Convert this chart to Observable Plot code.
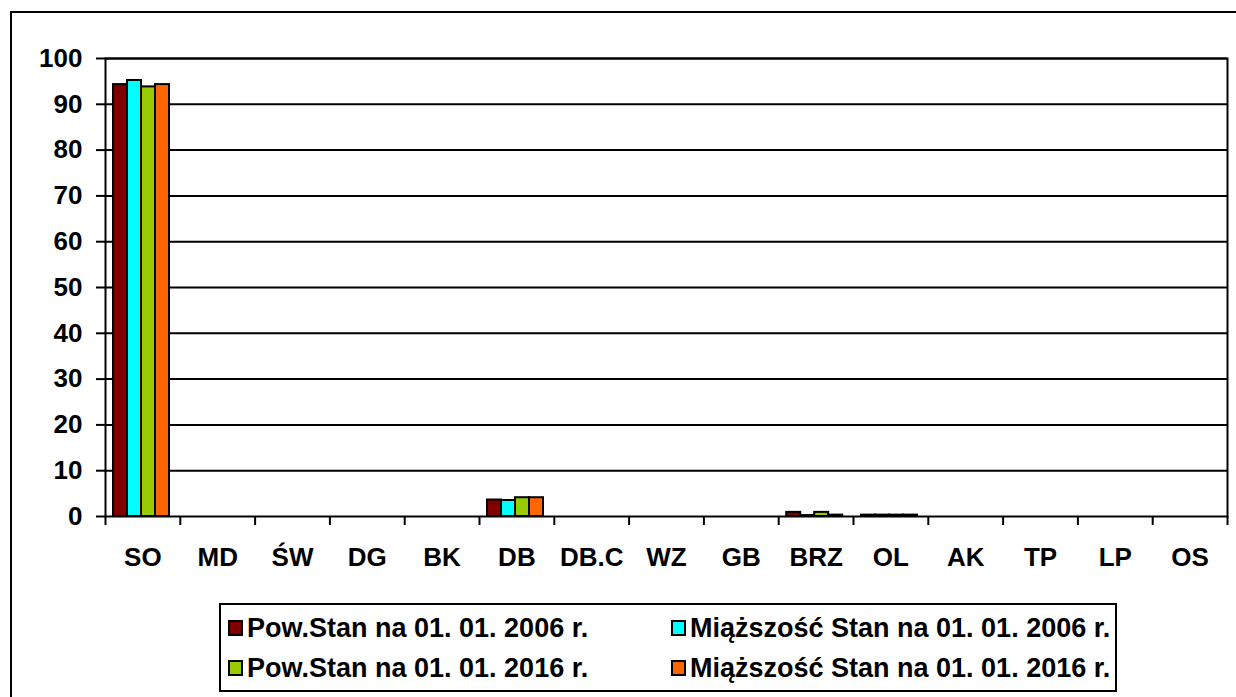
<!DOCTYPE html>
<html><head><meta charset="utf-8">
<script src="https://cdn.jsdelivr.net/npm/d3@7"></script>
<script src="https://cdn.jsdelivr.net/npm/@observablehq/plot@0.6"></script>
<style>
html,body{margin:0;padding:0;background:#fff;overflow:hidden;width:1236px;height:697px;}
#wrap{position:relative;width:1236px;height:697px;font-family:"Liberation Sans",Arial,sans-serif;font-weight:bold;}
#outer{position:absolute;left:10px;top:11px;width:1300px;height:800px;border:2px solid #000;box-sizing:border-box;}
#chart{position:absolute;left:0;top:0;}
#legend{position:absolute;left:219px;top:603px;width:898px;height:89px;border:2px solid #000;box-sizing:border-box;}
.item{position:absolute;display:flex;align-items:center;font-size:27px;height:30px;line-height:30px;}
.sw{width:11px;height:12px;border:2px solid #000;margin-right:4px;box-sizing:content-box;}
</style>
</head><body>
<div id="wrap"><div id="outer"></div><div id="chart"></div><div id="legend"></div></div>
<script>
const categories = ["SO","MD","ŚW","DG","BK","DB","DB.C","WZ","GB","BRZ","OL","AK","TP","LP","OS"];
const seriesNames = ["Pow.Stan na 01. 01. 2006 r.","Miąższość Stan na 01. 01. 2006 r.","Pow.Stan na 01. 01. 2016 r.","Miąższość Stan na 01. 01. 2016 r."];
const pow2006  = [94.3,0,0,0,0,3.6,0,0,0,0.9,0.3,0,0,0,0];
const miaz2006 = [95.2,0,0,0,0,3.5,0,0,0,0.2,0.3,0,0,0,0];
const pow2016  = [93.8,0,0,0,0,4.1,0,0,0,0.9,0.3,0,0,0,0];
const miaz2016 = [94.3,0,0,0,0,4.1,0,0,0,0.3,0.3,0,0,0,0];
const colors = ["#800000","#00FFFF","#99CC00","#FF6600"];
const yTicks = [0,10,20,30,40,50,60,70,80,90,100];

const seriesValues = [pow2006, miaz2006, pow2016, miaz2016];
const W = 1236, H = 600, mL = 105, mR = 9, mT = 58, mB = 84;
const bw = (W - mL - mR) / categories.length;
const barW = 14;
const inset = (bw - barW) / 2;

const marks = [
  Plot.ruleY(yTicks.filter(d => d > 0), {stroke: "#000", strokeWidth: 2}),
];
seriesValues.forEach((vals, i) => {
  const data = categories.map((c, j) => ({cat: c, v: vals[j]}));
  marks.push(Plot.barY(data, {
    x: "cat", y: "v", fill: colors[i], stroke: "#000", strokeWidth: 2,
    insetLeft: inset, insetRight: inset, dx: (i - 1.5) * barW - 1.4
  }));
});
marks.push(
  Plot.frame({stroke: "#000", strokeWidth: 2}),
  Plot.axisY({ticks: yTicks, tickSize: 9, tickPadding: 14, strokeWidth: 2, label: null}),
  Plot.axisX({tickSize: 9, text: null, strokeWidth: 2, dx: -bw / 2, label: null}),
  Plot.axisX({ticks: [categories[categories.length - 1]], tickSize: 9, text: null, strokeWidth: 2, dx: bw / 2, label: null}),
  Plot.axisX({tickSize: 0, tickPadding: 31, label: null})
);

const chart = Plot.plot({
  width: W, height: H,
  marginLeft: mL, marginRight: mR, marginTop: mT, marginBottom: mB,
  x: {domain: categories, padding: 0, round: false},
  y: {domain: [0, 100]},
  style: {fontSize: "26px", fontWeight: "bold", fontFamily: "'Liberation Sans', Arial, sans-serif", color: "#000", background: "transparent", overflow: "visible"},
  marks
});
document.getElementById("chart").appendChild(chart);

const legend = document.getElementById("legend");
const pos = [[7, 8], [450, 8], [7, 48], [450, 48]];
[0, 1, 2, 3].forEach((k, idx) => {
  const it = document.createElement("div");
  it.className = "item";
  it.style.left = pos[idx][0] + "px";
  it.style.top = pos[idx][1] + "px";
  const sw = document.createElement("div");
  sw.className = "sw";
  sw.style.background = colors[k];
  const tx = document.createElement("span");
  tx.textContent = seriesNames[k];
  it.appendChild(sw); it.appendChild(tx);
  legend.appendChild(it);
});
</script>
</body></html>
